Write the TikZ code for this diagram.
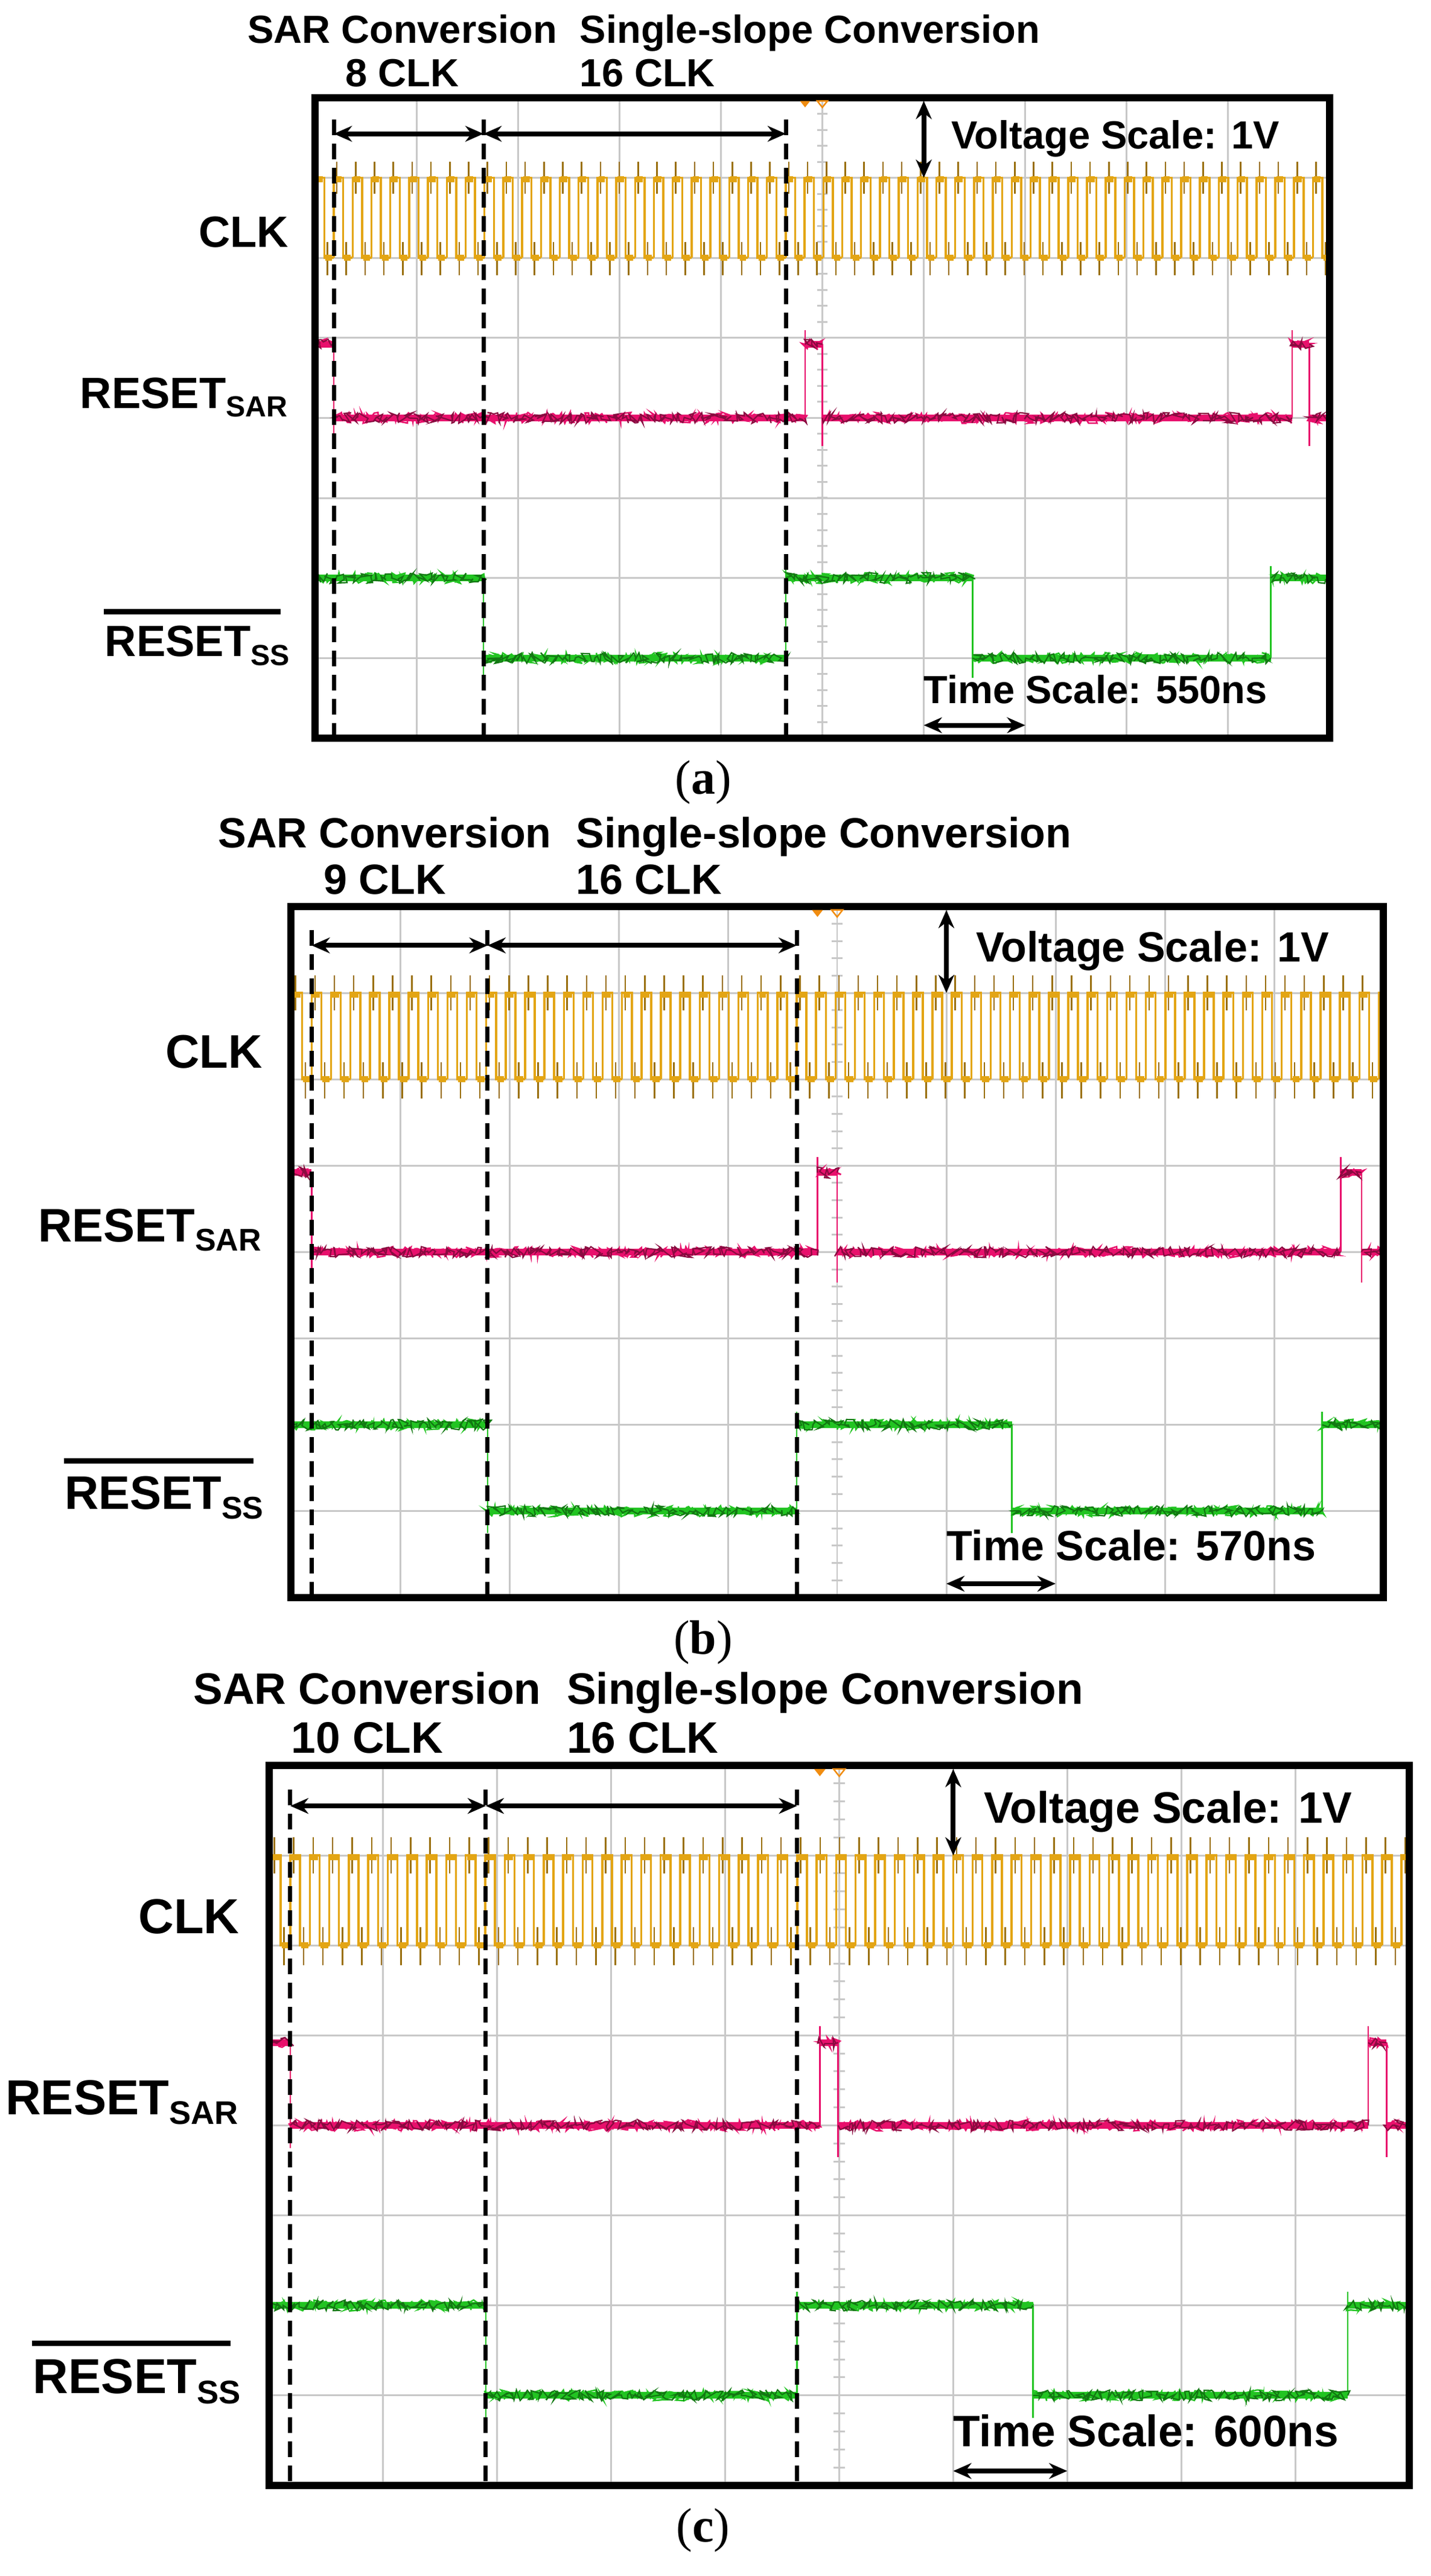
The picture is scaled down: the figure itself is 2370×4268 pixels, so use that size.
\documentclass[tikz,border=0pt]{standalone}
\usepackage{fontspec}
\setmainfont{Liberation Sans}
\newfontfamily\capfont{Liberation Serif}
\usetikzlibrary{arrows.meta,decorations.pathmorphing}
\definecolor{clkc}{HTML}{E3A514}
\definecolor{clkd}{HTML}{9A7010}
\definecolor{rstc}{HTML}{E8106C}
\definecolor{rstd}{HTML}{8A0A40}
\definecolor{ssc}{HTML}{22C422}
\definecolor{ssd}{HTML}{127812}
\definecolor{gridc}{HTML}{C8C8C8}
\definecolor{trigc}{HTML}{F08C10}
\tikzset{
  gridline/.style={draw=gridc,line width=3pt},
  clk/.style={draw=clkc,line width=3.5pt,line join=miter},
  clkspk/.style={draw=clkd,line width=2.5pt},
  noisy/.style={decorate,decoration={random steps,segment length=3pt,amplitude=9pt}},
  rstn/.style={draw=rstd,line width=2.2pt,noisy},
  rstnn/.style={draw=rstc,line width=2.5pt,noisy},
  rstcore/.style={draw=rstc,line width=11pt},
  rstv/.style={draw=rstc,line width=2.5pt},
  ssn/.style={draw=ssd,line width=2.2pt,noisy},
  ssnn/.style={draw=ssc,line width=2.5pt,noisy},
  sscore/.style={draw=ssc,line width=11pt},
  ssv/.style={draw=ssc,line width=2.5pt},
  frame/.style={draw=black,line width=12pt},
  vdash/.style={draw=black,line width=7pt,dash pattern=on 26pt off 14pt},
  dim/.style={draw=black,line width=8pt,{Stealth[length=30pt,width=26pt]}-{Stealth[length=30pt,width=26pt]}},
  lbl/.style={inner sep=0pt,font=\bfseries\fontsize{\fsL}{\fsL}\selectfont},
  ttl/.style={inner sep=0pt,font=\bfseries\fontsize{\fsT}{\fsT}\selectfont},
  capt/.style={inner sep=0pt,font=\capfont\fontsize{80}{80}\selectfont},
}
\newcommand\drawpanel[1]{%
\begin{scope}[shift={(\PX pt,-\PY pt)}, x=\DW pt, y=-\DH pt]
  \pgfmathsetmacro\fsT{70*\PS}\pgfmathsetmacro\fsL{78*\PS}\pgfmathsetmacro\fsS{52*\PS}
  \foreach \i in {1,2,3,4,6,7,8,9} \draw[gridline] (\i,0)--(\i,8);
  \foreach \j in {1,...,7} \draw[gridline] (0,\j)--(10,\j);
  \draw[draw=gridc,line width=2.5pt] (5,0)--(5,8);
  \foreach \j in {0.2,0.4,...,7.9} \draw[draw=gridc,line width=3pt] (4.95,\j)--(5.05,\j);
  \begin{scope}
    \clip (0,0) rectangle (10,8);
    \foreach \k in {-2,...,60}{%
      \pgfmathsetmacro\ta{\DA+\k*\TT}\pgfmathsetmacro\tb{\ta+\TT/2}\pgfmathsetmacro\tc{\ta+\TT}%
      \draw[clk] (\ta,2)--(\ta,1)--(\tb,1)--(\tb,2)--(\tc,2);
      \draw[clkspk] (\ta+0.03,0.8)--(\ta+0.03,1.2);
      \draw[clkspk] (\tb+0.03,1.8)--(\tb+0.03,2.22);
      \draw[draw=clkc,line width=10pt] (\ta+0.01,1.02)--(\ta+0.075,1.02);
      \draw[draw=clkc,line width=10pt] (\tb+0.01,2.0)--(\tb+0.075,2.0);
    }
    \draw[rstv] (\DA,3.08)--(\DA,4.25) (\PA,4)--(\PA,2.9) (\PB,3.08)--(\PB,4.35)
      (\PC,4)--(\PC,2.9) (\PD,3.08)--(\PD,4.35);
    \foreach \a/\b/\h in {0/\DA/3.08,\DA/\PA/4,\PA/\PB/3.08,\PB/\PC/4,\PC/\PD/3.08,\PD/10/4}{%
      \draw[rstcore] (\a,\h)--(\b,\h);
      \draw[rstnn] (\a,\h)--(\b,\h);
      \draw[rstn] (\a,\h)--(\b,\h);}
    \draw[ssv] (\DB,6)--(\DB,7.25) (\DC,7)--(\DC,5.85) (\GA,6)--(\GA,7.25) (\GB,7)--(\GB,5.85);
    \foreach \a/\b/\h in {0/\DB/6,\DB/\DC/7,\DC/\GA/6,\GA/\GB/7,\GB/10/6}{%
      \draw[sscore] (\a,\h)--(\b,\h);
      \draw[ssnn] (\a,\h)--(\b,\h);
      \draw[ssn] (\a,\h)--(\b,\h);}
  \end{scope}
  \draw[frame] (0,0) rectangle (10,8);
  \fill[trigc] (\PA-0.05,0.04)--(\PA+0.05,0.04)--(\PA,0.12)--cycle;
  \draw[trigc,line width=2.5pt] (5-0.05,0.04)--(5+0.05,0.04)--(5,0.12)--cycle;
  \coordinate (#1d1) at (\DA,0.45);
  \coordinate (#1d2) at (\DB,0.45);
  \coordinate (#1d3) at (\DC,0.45);
  \draw[vdash] (\DA,0.27)--(\DA,8) (\DB,0.27)--(\DB,8) (\DC,0.27)--(\DC,8);
  \draw[dim] (#1d1)--(#1d2);
  \draw[dim] (#1d2)--(#1d3);
  \coordinate (#1v1) at (6,0.04);
  \coordinate (#1v2) at (6,1);
  \draw[dim] (#1v1)--(#1v2);
  \coordinate (#1t1) at (6,7.84);
  \coordinate (#1t2) at (7,7.84);
  \draw[dim] (#1t1)--(#1t2);
  \node[ttl,anchor=base west] (#1vs) at (6.27,0.64) {Voltage Scale: 1V};
  \node[ttl,anchor=base west] (#1ts) at (6.0,7.57) {Time Scale: \TS ns};
  \node[ttl,anchor=base] (#1sar) at (0.86,-0.68) {SAR Conversion};
  \node[ttl,anchor=base] (#1sarn) at (0.86,-0.14) {\NCLK\ CLK};
  \node[ttl,anchor=base west] (#1ss) at (2.61,-0.68) {Single-slope Conversion};
  \node[ttl,anchor=base west] (#1ssn) at (2.61,-0.14) {16 CLK};
  \node[lbl,anchor=east] (#1clk) at (-0.26,1.68) {CLK};
  \node[lbl,anchor=base east] (#1rs) at (-0.27,3.88) {RESET\raisebox{-0.2em}{\fontsize{\fsS}{\fsS}\selectfont SAR}};
  \node[lbl,anchor=base east] (#1rss) at (-0.25,6.98) {RESET\raisebox{-0.2em}{\fontsize{\fsS}{\fsS}\selectfont SS}};
  \draw[black,line width=9pt] (-2.08,6.42)--(-0.34,6.42);
\end{scope}}
\begin{document}
\begin{tikzpicture}
\useasboundingbox (0,0) rectangle (2370pt,-4268pt);
\pgfmathsetseed{7}
\def\PX{522}\def\PY{162}\def\DW{168.1}\def\DH{132.6}\def\PS{0.929}\def\NCLK{8}
\def\DA{0.185}\def\DB{1.66}\def\DC{4.64}\def\PA{4.83}\def\PB{5.0}\def\PC{9.63}\def\PD{9.80}
\def\GA{6.48}\def\GB{9.42}\def\TS{550}\def\TT{0.1856}
\drawpanel{a}
\node[capt,anchor=base] (capa) at (1165pt,-1315pt) {(\textbf{a})};
\def\PX{482}\def\PY{1502}\def\DW{181}\def\DH{143.1}\def\PS{1}\def\NCLK{9}
\def\DA{0.19}\def\DB{1.80}\def\DC{4.63}\def\PA{4.82}\def\PB{5.0}\def\PC{9.61}\def\PD{9.80}
\def\GA{6.60}\def\GB{9.44}\def\TS{570}\def\TT{0.1776}
\drawpanel{b}
\node[capt,anchor=base] (capb) at (1165pt,-2740pt) {(\textbf{b})};
\def\PX{446}\def\PY{2925}\def\DW{188.9}\def\DH{149.1}\def\PS{1.043}\def\NCLK{10}
\def\DA{0.185}\def\DB{1.90}\def\DC{4.63}\def\PA{4.83}\def\PB{4.99}\def\PC{9.64}\def\PD{9.80}
\def\GA{6.70}\def\GB{9.46}\def\TS{600}\def\TT{0.171}
\drawpanel{c}
\node[capt,anchor=base] (capc) at (1165pt,-4211pt) {(\textbf{c})};
\end{tikzpicture}
\end{document}
